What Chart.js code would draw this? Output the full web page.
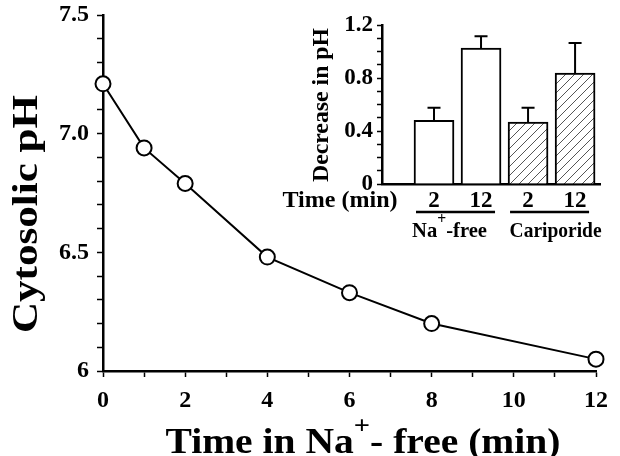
<!DOCTYPE html>
<html>
<head>
<meta charset="utf-8">
<script src="https://cdn.jsdelivr.net/npm/chart.js@4.4.0/dist/chart.umd.min.js"></script>
<style>
html, body { margin: 0; padding: 0; background: #fff; }
#wrap { position: relative; width: 620px; height: 456px; }
#main { position: absolute; left: 0; top: 0; }
#inset { position: absolute; left: 280px; top: 0; }
</style>
</head>
<body>
<div id="wrap">
  <canvas id="main" width="620" height="456"></canvas>
  <canvas id="inset" width="340" height="250"></canvas>
</div>
<script>
// main curve
const timeMin = [0, 1, 2, 4, 6, 8, 12];
const cytosolicPH = [7.21, 6.94, 6.79, 6.48, 6.33, 6.20, 6.05];

// inset bars
const insetPos = [1, 2, 3, 4];
const insetTimes = ['2', '12', '2', '12'];
const insetDecrease = [0.48, 1.025, 0.468, 0.838];
const insetError = [0.095, 0.09, 0.107, 0.227];
const insetGroups = ['Na', 'Cariporide'];

const SERIF = '"Liberation Serif", "Times New Roman", serif';
const tickFont = { family: SERIF, size: 24, weight: 'bold', lineHeight: 1 };
const insetTickFont = { family: SERIF, size: 23, weight: 'bold', lineHeight: 1 };

// draws text made of parts [text, size, dy], centred on x, stretched to width
function drawRich(ctx, parts, x, y, width, angle) {
    ctx.save();
    ctx.translate(x, y);
    if (angle) ctx.rotate(angle);
    let w = 0;
    parts.forEach(p => {
        ctx.font = 'bold ' + p[1] + 'px ' + SERIF;
        w += ctx.measureText(p[0]).width;
    });
    const k = width ? width / w : 1;
    ctx.scale(k, 1);
    ctx.fillStyle = '#000';
    ctx.textAlign = 'left';
    ctx.textBaseline = 'alphabetic';
    let cx = -w / 2;
    parts.forEach(p => {
        ctx.font = 'bold ' + p[1] + 'px ' + SERIF;
        ctx.fillText(p[0], cx, p[2] || 0);
        cx += ctx.measureText(p[0]).width;
    });
    ctx.restore();
}

const mainTitles = {
    id: 'mainTitles',
    afterDraw(chart) {
        const ctx = chart.ctx;
        drawRich(ctx, [['Cytosolic pH', 36]], 37, 214, 238, -Math.PI / 2);
        drawRich(ctx, [['Time in Na', 36], ['+', 26, -19], ['- free (min)', 36]], 363, 453, 395);
    }
};

new Chart(document.getElementById('main'), {
    type: 'line',
    data: {
        datasets: [{
            data: timeMin.map((t, i) => ({ x: t, y: cytosolicPH[i] })),
            borderColor: '#000',
            borderWidth: 2,
            pointRadius: 7.5,
            pointBackgroundColor: '#fff',
            pointBorderColor: '#000',
            pointBorderWidth: 2,
            tension: 0,
            clip: false
        }]
    },
    options: {
        responsive: false,
        animation: false,
        layout: { padding: { left: 0, right: 24, top: 15, bottom: 0 } },
        plugins: { legend: { display: false }, tooltip: { enabled: false } },
        scales: {
            x: {
                type: 'linear', min: 0, max: 12,
                ticks: {
                    stepSize: 1, autoSkip: false, maxRotation: 0, padding: 12,
                    color: '#000', font: tickFont,
                    callback: v => (v % 2 === 0 ? String(v) : '')
                },
                grid: { drawOnChartArea: false, tickLength: 6, tickColor: '#000', tickWidth: 1.5 },
                border: { color: '#000', width: 2.5 },
                afterFit: s => { s.height = 85; }
            },
            y: {
                min: 6, max: 7.5,
                ticks: {
                    stepSize: 0.1, autoSkip: false, padding: 8,
                    color: '#000', font: tickFont,
                    callback: v => {
                        const r = Math.round(v * 10);
                        if (r === 60) return '6';
                        return r % 5 === 0 ? (r / 10).toFixed(1) : '';
                    }
                },
                grid: { drawOnChartArea: false, tickLength: 6, tickColor: '#000', tickWidth: 1.5 },
                border: { color: '#000', width: 2.5 },
                afterFit: s => { s.width = 103; s.paddingTop = 0; s.paddingBottom = 0; }
            }
        }
    },
    plugins: [mainTitles]
});

function makeHatch() {
    const c = document.createElement('canvas');
    c.width = 9; c.height = 9;
    const g = c.getContext('2d');
    g.fillStyle = '#fff';
    g.fillRect(0, 0, 9, 9);
    g.strokeStyle = '#555';
    g.lineWidth = 1;
    g.beginPath();
    g.moveTo(0, 9); g.lineTo(9, 0);
    g.moveTo(-1, 1); g.lineTo(1, -1);
    g.moveTo(8, 10); g.lineTo(10, 8);
    g.stroke();
    return g.createPattern(c, 'repeat');
}
const hatch = makeHatch();

const insetExtras = {
    id: 'insetExtras',
    afterDatasetsDraw(chart) {
        const ctx = chart.ctx;
        const ys = chart.scales.y;
        const bars = chart.getDatasetMeta(0).data;
        ctx.save();
        ctx.strokeStyle = '#000';
        ctx.lineWidth = 2;
        bars.forEach((b, i) => {
            const top = ys.getPixelForValue(insetDecrease[i]);
            const end = ys.getPixelForValue(insetDecrease[i] + insetError[i]);
            ctx.beginPath();
            ctx.moveTo(b.x, top); ctx.lineTo(b.x, end);
            ctx.moveTo(b.x - 6.5, end); ctx.lineTo(b.x + 6.5, end);
            ctx.stroke();
        });
        // group underlines and names
        ctx.lineWidth = 2.5;
        for (let g = 0; g < 2; g++) {
            const a = bars[g * 2], c = bars[g * 2 + 1];
            const x1 = a.x - 18, x2 = c.x + 14;
            ctx.beginPath();
            ctx.moveTo(x1, 212); ctx.lineTo(x2, 212);
            ctx.stroke();
            const mid = (x1 + x2) / 2;
            if (g === 0) drawRich(ctx, [[insetGroups[0], 21], ['+', 16, -13], ['-free', 21]], mid - 6, 237, 75);
            else drawRich(ctx, [[insetGroups[1], 21]], mid + 6, 237, 92);
        }
        ctx.restore();
        drawRich(ctx, [['Time (min)', 23]], 60, 207, 115);
        drawRich(ctx, [['Decrease in pH', 24]], 48, 105, 154, -Math.PI / 2);
    }
};

new Chart(document.getElementById('inset'), {
    type: 'bar',
    data: {
        datasets: [{
            data: insetPos.map((p, i) => ({ x: p, y: insetDecrease[i] })),
            backgroundColor: ['#fff', '#fff', hatch, hatch],
            borderColor: '#000',
            borderWidth: 2,
            barThickness: 40
        }]
    },
    options: {
        responsive: false,
        animation: false,
        layout: { padding: { left: 0, right: 20, top: 25, bottom: 0 } },
        plugins: { legend: { display: false }, tooltip: { enabled: false } },
        scales: {
            x: {
                type: 'linear', min: -0.106, max: 4.53, offset: false,
                afterBuildTicks: s => { s.ticks = insetPos.map(v => ({ value: v })); },
                ticks: {
                    autoSkip: false, maxRotation: 0, padding: -2,
                    color: '#000', font: insetTickFont,
                    callback: v => insetTimes[insetPos.indexOf(v)] || ''
                },
                grid: { display: false, offset: false },
                border: { color: '#000', width: 2.5 },
                afterFit: s => { s.height = 66; }
            },
            y: {
                min: 0, max: 1.2,
                ticks: {
                    stepSize: 0.1, autoSkip: false, padding: 4,
                    color: '#000', font: insetTickFont,
                    callback: v => {
                        const r = Math.round(v * 10);
                        if (r === 0) return '0';
                        return r % 4 === 0 ? (r / 10).toFixed(1) : '';
                    }
                },
                grid: { drawOnChartArea: false, tickLength: 5, tickColor: '#000', tickWidth: 1.5 },
                border: { color: '#000', width: 2.5 },
                afterFit: s => { s.width = 102; }
            }
        }
    },
    plugins: [insetExtras]
});
</script>
</body>
</html>
